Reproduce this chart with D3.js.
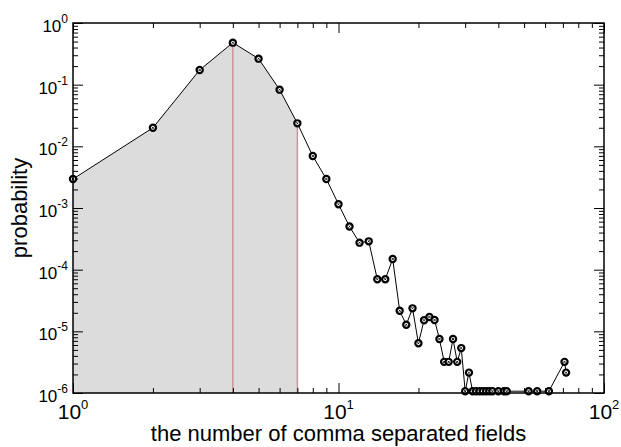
<!DOCTYPE html>
<html><head><meta charset="utf-8">
<script src="https://cdn.jsdelivr.net/npm/d3@7"></script>
<style>
body{margin:0;background:#fff}
svg{display:block}
text{font-family:"Liberation Sans",Arial,Helvetica,sans-serif;fill:#000}
</style>
</head><body>
<svg id="chart" width="621" height="447"></svg>
<script>
// ---- data ----
const fields = [1,2,3,4,5,6,7,8,9,10,11,12,13,14,15,16,17,18,19,20,21,22,23,24,25,26,27,28,29,30,31,32,33,34,35,36,37,38,40,42,43,52,56,62,71,72];
const probability = [2.95e-3,0.020,0.173,0.48,0.264,0.083,0.0236,6.97e-3,2.95e-3,1.15e-3,5.0e-4,2.74e-4,2.88e-4,7.0e-5,7.0e-5,1.49e-4,
  2.16e-5,1.28e-5,2.36e-5,6.4e-6,1.51e-5,1.71e-5,1.53e-5,7.5e-6,3.2e-6,3.2e-6,7.5e-6,3.2e-6,5.35e-6,1.07e-6,2.14e-6,
  1.07e-6,1.07e-6,1.07e-6,1.07e-6,1.07e-6,1.07e-6,1.07e-6,1.07e-6,1.07e-6,1.07e-6,1.07e-6,1.07e-6,1.07e-6,3.2e-6,2.14e-6];
const shadedUpTo = 7;
const markerLines = [4, 7];
const xTickValues = [1, 10, 100];
const xTickExponents = ["0", "1", "2"];
const yTickValues = [1, 1e-1, 1e-2, 1e-3, 1e-4, 1e-5, 1e-6];
const yTickExponents = ["0", "-1", "-2", "-3", "-4", "-5", "-6"];
const xTitle = "the number of comma separated fields";
const yTitle = "probability";

// ---- layout ----
const L = 73, R = 604, T = 23, B = 393;
const svg = d3.select("#chart");
const x = d3.scaleLog().domain([1, 100]).range([L, R]);
const y = d3.scaleLog().domain([1e-6, 1]).range([B, T]);

const minors = (majors) => {
  const out = [];
  for (let i = 0; i < majors.length - 1; i++) {
    const lo = Math.min(majors[i], majors[i+1]);
    for (let k = 2; k <= 9; k++) out.push(lo * k);
  }
  return out;
};
const xMinor = minors(xTickValues);
const yMinor = minors(yTickValues);

// shaded area
const shaded = fields.map((f, i) => ({f, p: probability[i]})).filter(d => d.f <= shadedUpTo);
svg.append("path")
  .datum(shaded)
  .attr("fill", "#dcdcdc")
  .attr("d", d3.area().x(d => x(d.f)).y0(y(1e-6)).y1(d => y(d.p)));

// vertical marker lines
markerLines.forEach(f => {
  const i = fields.indexOf(f);
  svg.append("line")
    .attr("x1", x(f)).attr("x2", x(f))
    .attr("y1", y(probability[i])).attr("y2", y(1e-6))
    .attr("stroke", "#c89696").attr("stroke-width", 1.5);
});

// axes ticks (inward, all four sides)
function tickAxis(axisGen, transform, values, size) {
  const g = svg.append("g").attr("transform", transform)
    .call(axisGen.tickValues(values).tickSize(size).tickFormat(""));
  g.select(".domain").remove();
  g.selectAll(".tick line").attr("stroke", "#000").attr("stroke-width", 1);
}
tickAxis(d3.axisBottom(x), `translate(0,${B})`, xTickValues, -10);
tickAxis(d3.axisBottom(x), `translate(0,${B})`, xMinor, -5);
tickAxis(d3.axisTop(x), `translate(0,${T})`, xTickValues, -10);
tickAxis(d3.axisTop(x), `translate(0,${T})`, xMinor, -5);
tickAxis(d3.axisLeft(y), `translate(${L},0)`, yTickValues, -10);
tickAxis(d3.axisLeft(y), `translate(${L},0)`, yMinor, -5);
tickAxis(d3.axisRight(y), `translate(${R},0)`, yTickValues, -10);
tickAxis(d3.axisRight(y), `translate(${R},0)`, yMinor, -5);

// data line
svg.append("path")
  .datum(fields.map((f, i) => [f, probability[i]]))
  .attr("fill", "none").attr("stroke", "#000").attr("stroke-width", 1)
  .attr("d", d3.line().x(d => x(d[0])).y(d => y(d[1])));

// markers
const mk = svg.append("g").selectAll("g").data(fields.map((f, i) => [f, probability[i]])).join("g")
  .attr("transform", d => `translate(${x(d[0])},${y(d[1])})`);
mk.append("circle").attr("r", 3.1).attr("fill", "#fff").attr("stroke", "#000").attr("stroke-width", 2.2);
mk.append("path").attr("d", "M-1.1,-1.1L1.1,1.1M-1.1,1.1L1.1,-1.1").attr("stroke", "#000").attr("stroke-width", 0.9);

// frame
svg.append("rect").attr("x", L).attr("y", T).attr("width", R - L).attr("height", B - T)
  .attr("fill", "none").attr("stroke", "#000").attr("stroke-width", 1.5);

// x tick labels
xTickValues.forEach((v, i) => {
  const t = svg.append("text").attr("x", x(v)).attr("y", 419).attr("text-anchor", "middle").style("font-size", "21px");
  t.append("tspan").text("10");
  t.append("tspan").attr("dy", -10).style("font-size", "13px").text(xTickExponents[i]);
});
// y tick labels
yTickValues.forEach((v, i) => {
  const t = svg.append("text").attr("x", 68).attr("y", y(v) + 9).attr("text-anchor", "end").style("font-size", "17px");
  t.append("tspan").text("10");
  t.append("tspan").attr("dy", -9).style("font-size", "12px").text(yTickExponents[i]);
});

// titles
svg.append("text").attr("x", (L + R) / 2).attr("y", 441).attr("text-anchor", "middle")
  .style("font-size", "22px").text(xTitle);
svg.append("text").attr("transform", `translate(27,${(T + B) / 2}) rotate(-90)`).attr("text-anchor", "middle")
  .style("font-size", "22px").text(yTitle);
</script>
</body></html>
